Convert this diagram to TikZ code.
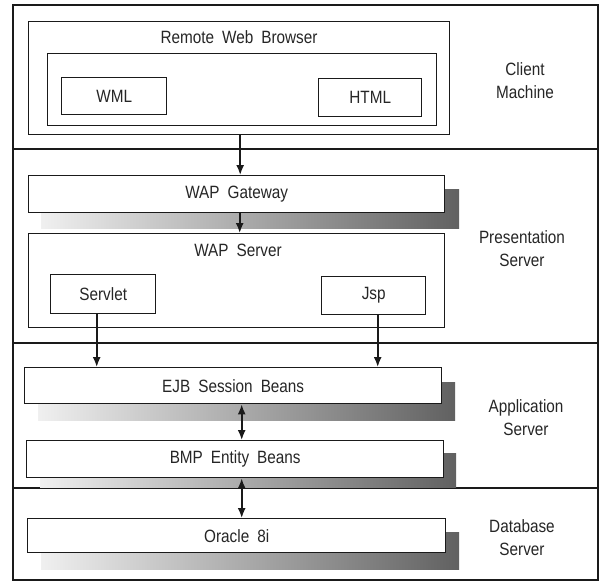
\documentclass[tikz,border=0pt]{standalone}
\usepackage{fontspec}
\setmainfont{Liberation Sans}[FakeStretch=0.86]
\usetikzlibrary{arrows.meta}
\definecolor{ink}{HTML}{1A1A1A}
\definecolor{txt}{HTML}{262626}
\begin{document}
\begin{tikzpicture}[x=1pt,y=-1pt,
  every node/.style={text=txt, font=\fontsize{17.8}{23}\selectfont, execute at begin node={\spaceskip=8pt\relax}},
  frame/.style={draw=ink, line width=2pt},
  bx/.style={draw=ink, line width=1.4pt, fill=white, anchor=north west, inner sep=0pt},
  shadowbox/.style={left color=black!6, right color=black!62, draw=none},
  arr/.style={draw=ink, line width=1.6pt, -{Latex[length=10pt,width=8pt]}},
  darr/.style={draw=ink, line width=1.6pt, {Latex[length=10pt,width=8pt]}-{Latex[length=10pt,width=8pt]}},
  side/.style={align=center}
]
\useasboundingbox (0,0) rectangle (602,586);
\fill[white] (0,0) rectangle (602,586);

% outer frame and dividers
\draw[frame] (13,5) rectangle (598,580);
\coordinate (d1l) at (13,149); \coordinate (d1r) at (598,149);
\coordinate (d2l) at (13,343); \coordinate (d2r) at (598,343);
\coordinate (d3l) at (13,488); \coordinate (d3r) at (598,488);
\draw[frame] (d1l) -- (d1r);
\draw[frame] (d2l) -- (d2r);
\draw[frame] (d3l) -- (d3r);

% client machine
\node[bx, minimum width=421, minimum height=113] (browser) at (28,21) {};
\node (browsert) at (239,37) {Remote Web Browser};
\node[bx, minimum width=389, minimum height=72] (inner) at (47,53) {};
\node[bx, minimum width=105, minimum height=37] (wml) at (61,77) {WML};
\node[bx, minimum width=103, minimum height=38] (html) at (318,78) {HTML};
\node[side] (client) at (525,81) {Client\\Machine};

% presentation server
\fill[shadowbox] (41,189) rectangle (459,228);
\node[bx, minimum width=416, minimum height=37] (gateway) at (28,175) {WAP Gateway};
\node[bx, minimum width=416, minimum height=94] (wapserver) at (28,233) {};
\node (wapt) at (238,250) {WAP Server};
\node[bx, minimum width=105, minimum height=39] (servlet) at (50,274) {Servlet};
\node[bx, minimum width=104, minimum height=38] (jsp) at (321,276) {Jsp};
\node[side] (pres) at (522,248.5) {Presentation\\Server};

% application server
\fill[shadowbox] (38,382) rectangle (455,420);
\node[bx, minimum width=417, minimum height=36] (ejb) at (24,367) {EJB Session Beans};
\fill[shadowbox] (40,453) rectangle (456,487);
\node[bx, minimum width=417, minimum height=37] (bmp) at (26,440) {BMP Entity Beans};
\node[side] (app) at (526,418) {Application\\Server};

% database server
\fill[shadowbox] (41,532) rectangle (459,569);
\node[bx, minimum width=418, minimum height=34] (oracle) at (27,518) {Oracle 8i};
\node[side] (db) at (522,538) {Database\\Server};

% connectors
\draw[arr] ([xshift=1]browser.south) -- ([xshift=1]browser.south |- gateway.north);
\draw[arr] ([xshift=3]gateway.south) -- ([xshift=3]gateway.south |- wapserver.north);
\draw[arr] ([xshift=-6.5]servlet.south) -- ([xshift=-6.5]servlet.south |- ejb.north);
\draw[arr] ([xshift=4]jsp.south) -- ([xshift=4]jsp.south |- ejb.north);
\draw[darr] ([xshift=8.5]ejb.south) -- ([xshift=8.5]ejb.south |- bmp.north);
\draw[darr] ([xshift=6.5]bmp.south) -- ([xshift=6.5]bmp.south |- oracle.north);
\end{tikzpicture}
\end{document}
